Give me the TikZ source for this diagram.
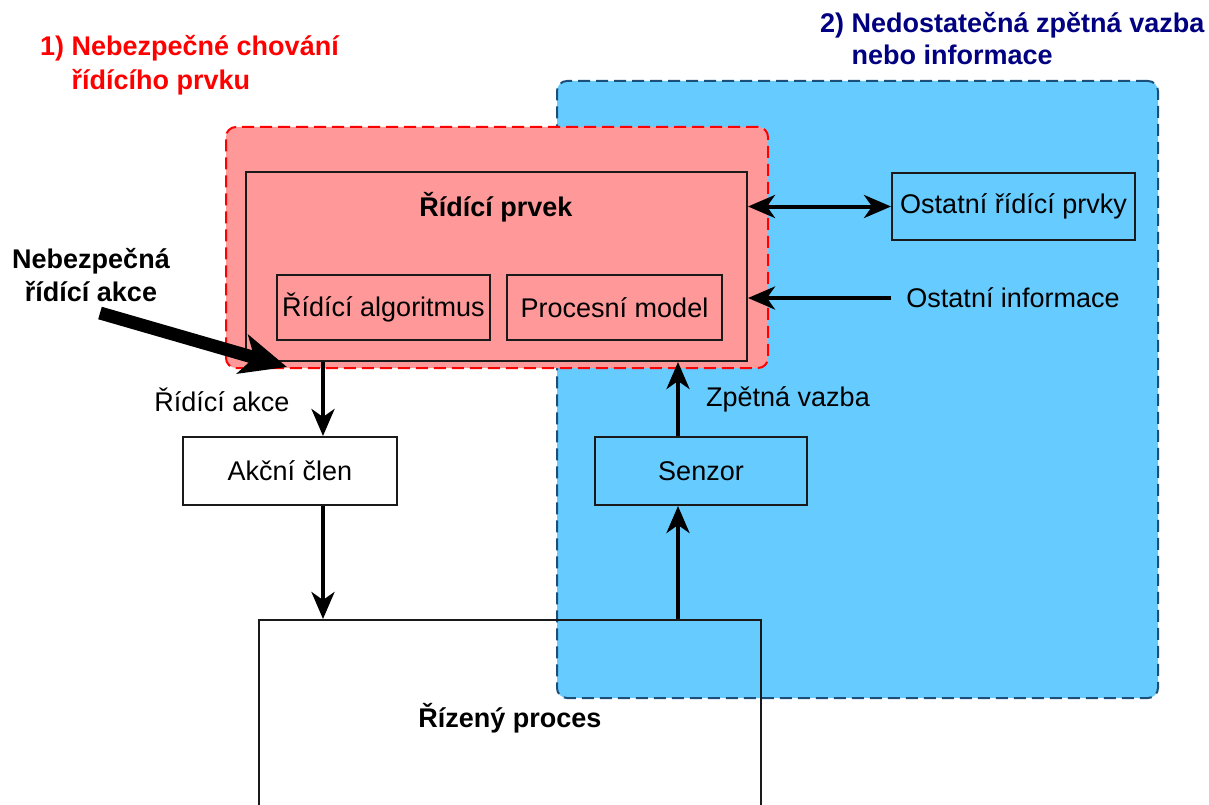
\documentclass[tikz,border=0pt]{standalone}
\usepackage{fontspec}
\setmainfont{Liberation Sans}
\usetikzlibrary{arrows.meta,calc}
\definecolor{hazardred}{HTML}{FF0000}
\definecolor{hazardfill}{HTML}{FF9999}
\definecolor{feedfill}{HTML}{66CCFF}
\definecolor{feedline}{HTML}{1B4F7A}
\definecolor{navytitle}{HTML}{000080}
\definecolor{boxline}{HTML}{1A1A1A}

\begin{document}
\begin{tikzpicture}[x=1pt,y=-1pt,
  every node/.style={font=\fontsize{27}{33}\selectfont, inner sep=0pt},
  region/.style={rectangle, rounded corners=10pt, line width=2pt, dash pattern=on 12pt off 6pt},
  blockbox/.style={rectangle, draw=boxline, line width=2pt},
  tipshape/.style={},
  flow/.style={line width=4pt, -{Stealth[length=27pt,width=23pt,inset=8pt]}},
  flowboth/.style={line width=4pt, {Stealth[length=27pt,width=23pt,inset=8pt]}-{Stealth[length=27pt,width=23pt,inset=8pt]}},
  hazardarrow/.style={line width=13pt, -{Stealth[length=46pt,width=40pt,inset=12pt]}}
]
\useasboundingbox (0,0) rectangle (1209,805);

% grouping regions
\node[region, draw=feedline, fill=feedfill, minimum width=601pt, minimum height=617pt] (fbzone) at (857.5,389.5) {};
\node[region, draw=hazardred, fill=hazardfill, minimum width=542pt, minimum height=241pt] (ctrlzone) at (497,247.5) {};

% controller and its parts
\node[blockbox, minimum width=501pt, minimum height=189pt] (ctrl) at (496.5,266.5) {};
\node[font=\fontsize{27}{33}\selectfont\bfseries] (ctrltitle) at (496,207) {Řídící prvek};
\node[blockbox, minimum width=213pt, minimum height=65pt] (algo) at (383.5,307.5) {Řídící algoritmus};
\node[blockbox, minimum width=215pt, minimum height=65pt] (model) at (614.5,307.5) {Procesní model};

% other elements
\node[blockbox, minimum width=243pt, minimum height=67pt] (others) at (1013.5,206.5) {Ostatní řídící prvky};
\node[inner xsep=15pt] (info) at (1013,298) {Ostatní informace};

% actuator, sensor, process
\node[blockbox, fill=white, minimum width=214pt, minimum height=68pt] (act) at (290,471) {Akční člen};
\node[blockbox, minimum width=212pt, minimum height=68pt] (sen) at (701,471) {Senzor};
\node[blockbox, minimum width=502pt, minimum height=196pt, font=\fontsize{27}{33}\selectfont\bfseries] (proc) at (510,718) {Řízený proces};

% columns of the vertical connectors
\coordinate (actcol) at (323,0);
\coordinate (sencol) at (678,0);

% connectors
\draw[flowboth] (others.west) -- (others.west -| ctrl.east);
\draw[flow] (info.west) -- (info.west -| ctrl.east);
\draw[flow] (actcol |- ctrl.south) -- (actcol |- act.north);
\draw[flow] (actcol |- act.south) -- (actcol |- proc.north);
\draw[flow] (sencol |- proc.north) -- (sencol |- sen.south);
\draw[flow] (sencol |- sen.north) -- (sencol |- ctrl.south);

% connector labels
\node (actlabel) at (222,400) {Řídící akce};
\node (fblabel) at (788,399) {Zpětná vazba};

% unsafe control action
\node[align=center, font=\fontsize{27}{33}\selectfont\bfseries] (hazardlabel) at (91,275) {Nebezpečná\\řídící akce};
\coordinate (hazardtail) at (100,313);
\coordinate (hazardtip) at (287,367);
\draw[hazardarrow] (hazardtail) -- (hazardtip);

% titles of the two regions
\node[anchor=west, align=left, text=hazardred, font=\fontsize{27}{34}\selectfont\bfseries] (title1) at (40,65)
  {1) Nebezpečné chování\\\phantom{1) }řídícího prvku};
\node[anchor=west, align=left, text=navytitle, font=\fontsize{27}{32}\selectfont\bfseries] (title2) at (820,41)
  {2) Nedostatečná zpětná vazba\\\phantom{2) }nebo informace};
\end{tikzpicture}
\end{document}
